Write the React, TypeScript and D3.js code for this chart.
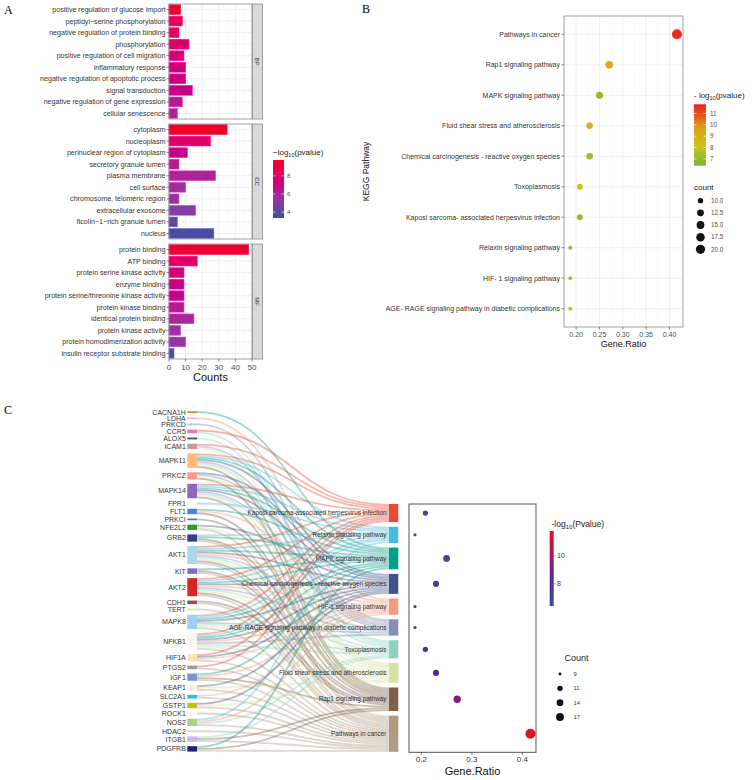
import React from "react";
import * as d3 from "d3";

const FONT = "'Liberation Sans', Arial, Helvetica, sans-serif";
const SERIF = "'Liberation Serif', 'Times New Roman', serif";

// ---------- Panel A: GO terms ----------
const bpTerms = [
  "positive regulation of glucose import",
  "peptidyl−serine phosphorylation",
  "negative regulation of protein binding",
  "phosphorylation",
  "positive regulation of cell migration",
  "inflammatory response",
  "negative regulation of apoptotic process",
  "signal transduction",
  "negative regulation of gene expression",
  "cellular senescence",
];
const bpCounts = [7, 8, 6, 12, 9, 10, 10, 14, 8, 5];
const bpLogP = [9.5, 8.3, 8.1, 7.9, 7.6, 7.4, 7.1, 6.8, 6.4, 6.1];

const ccTerms = [
  "cytoplasm",
  "nucleoplasm",
  "perinuclear region of cytoplasm",
  "secretory granule lumen",
  "plasma membrane",
  "cell surface",
  "chromosome, telomeric region",
  "extracellular exosome",
  "ficolin−1−rich granule lumen",
  "nucleus",
];
const ccCounts = [35, 25, 11, 6, 28, 10, 6, 16, 5, 27];
const ccLogP = [9.6, 7.9, 6.8, 6.4, 6.1, 5.8, 5.5, 5.0, 4.1, 3.7];

const mfTerms = [
  "protein binding",
  "ATP binding",
  "protein serine kinase activity",
  "enzyme binding",
  "protein serine/threonine kinase activity",
  "protein kinase binding",
  "identical protein binding",
  "protein kinase activity",
  "protein homodimerization activity",
  "insulin receptor substrate binding",
];
const mfCounts = [48, 17, 9, 9, 9, 9, 15, 7, 10, 3];
const mfLogP = [9.4, 8.0, 7.5, 7.1, 6.8, 6.4, 6.0, 5.7, 5.4, 3.8];

const goTicks = [0, 10, 20, 30, 40, 50];
const goLegendTicks = [4, 6, 8];

// ---------- Panel B: KEGG dot plot ----------
const keggKeys = ["cancer", "rap1", "mapk", "fluid", "chem", "toxo", "kaposi", "relaxin", "hif", "age"];
const keggLabelsB = [
  "Pathways in cancer",
  "Rap1 signaling pathway",
  "MAPK signaling pathway",
  "Fluid shear stress and atherosclerosis",
  "Chemical carcinogenesis -  reactive oxygen species",
  "Toxoplasmosis",
  "Kaposi sarcoma- associated herpesvirus infection",
  "Relaxin signaling pathway",
  "HIF- 1 signaling pathway",
  "AGE- RAGE signaling pathway in diabetic complications",
];
const keggLabelsC = [
  "Pathways in cancer",
  "Rap1 signaling pathway",
  "MAPK signaling pathway",
  "Fluid shear stress and atherosclerosis",
  "Chemical carcinogenesis - reactive oxygen species",
  "Toxoplasmosis",
  "Kaposi sarcoma-associated herpesvirus infection",
  "Relaxin signaling pathway",
  "HIF-1 signaling pathway",
  "AGE-RAGE signaling pathway in diabetic complications",
];
const keggRatio = [0.416, 0.271, 0.25, 0.229, 0.229, 0.208, 0.208, 0.1875, 0.1875, 0.1875];
const keggCount = [20, 13, 12, 11, 11, 10, 10, 9, 9, 9];
const keggLogP = [11.6, 9.4, 7.0, 8.8, 7.3, 8.2, 7.0, 7.0, 7.6, 7.8];
const keggTicksB = [0.2, 0.25, 0.3, 0.35, 0.4];
const keggLegendB = [7, 8, 9, 10, 11];
const countLegendB = [10, 12.5, 15, 17.5, 20];

// ---------- Panel C: gene–pathway sankey ----------
const sankeyOrder = ["kaposi", "relaxin", "mapk", "chem", "hif", "age", "toxo", "fluid", "rap1", "cancer"];
const pathwayColors = ["#E64B35", "#4DBBD5", "#00A087", "#3C5488", "#F39B7F", "#8491B4", "#91D1C2", "#D6E2A2", "#7E6148", "#B09C85"];

const geneNames = [
  "CACNA1H", "LDHA", "PRKCD", "CCR5", "ALOX5", "ICAM1", "MAPK11", "PRKCZ", "MAPK14", "FPR1",
  "FLT1", "PRKCI", "NFE2L2", "GRB2", "AKT1", "KIT", "AKT2", "CDH1", "TERT", "MAPK8",
  "NFKB1", "HIF1A", "PTGS2", "IGF1", "KEAP1", "SLC2A1", "GSTP1", "ROCK1", "NOS2", "HDAC2",
  "ITGB1", "PDGFRB",
];
const geneColors = [
  "#E8842A", "#F7B6D2", "#B8C6E6", "#E377C2", "#2F5A55", "#C49C94", "#FFBB78", "#FF9896", "#9467BD", "#F6F6F6",
  "#4A86D0", "#3F7FC9", "#2CA02C", "#393B8F", "#A9D9E8", "#7D6CBF", "#D62728", "#8C564B", "#E8E2A0", "#9FD0F0",
  "#FBF6EE", "#FFE0B2", "#9A9A9A", "#7B93D6", "#FDF1DC", "#2BBFD0", "#BDBD22", "#F8F8F8", "#A8D08C", "#DADADA",
  "#CDB8DE", "#20207A",
];
const genePathways = [
  ["mapk"],
  ["hif"],
  ["age"],
  ["kaposi", "toxo"],
  ["toxo"],
  ["kaposi", "age", "fluid"],
  ["kaposi", "relaxin", "mapk", "chem", "age", "toxo", "fluid", "rap1"],
  ["chem", "age", "fluid", "rap1"],
  ["kaposi", "relaxin", "mapk", "chem", "age", "toxo", "fluid", "rap1"],
  ["relaxin"],
  ["mapk", "hif", "rap1"],
  ["rap1"],
  ["chem", "fluid", "cancer"],
  ["relaxin", "mapk", "rap1", "cancer"],
  ["kaposi", "relaxin", "mapk", "chem", "hif", "age", "toxo", "fluid", "rap1", "cancer"],
  ["mapk", "rap1", "cancer"],
  ["kaposi", "relaxin", "mapk", "chem", "hif", "age", "toxo", "fluid", "rap1", "cancer"],
  ["rap1", "cancer"],
  ["cancer"],
  ["kaposi", "relaxin", "mapk", "chem", "age", "toxo", "fluid", "cancer"],
  ["kaposi", "relaxin", "mapk", "chem", "hif", "age", "toxo", "fluid", "cancer"],
  ["kaposi", "chem", "hif", "cancer"],
  ["kaposi", "cancer"],
  ["mapk", "hif", "rap1", "cancer"],
  ["chem", "fluid", "cancer"],
  ["hif", "cancer"],
  ["chem", "fluid", "cancer"],
  ["cancer"],
  ["relaxin", "hif", "toxo", "cancer"],
  ["cancer"],
  ["toxo", "rap1", "cancer"],
  ["mapk", "rap1", "cancer"],
];
const keggTicksC = [0.2, 0.3, 0.4];
const keggLegendC = [8, 10];
const countLegendC = [9, 11, 14, 17];

// ---------------------------------------------------------------

function PanelA() {
  const x = d3.scaleLinear().domain([0, 50]).range([169, 252]);
  const color = d3
    .scaleLinear<string>()
    .domain([3.35, 9.75])
    .range(["#3E4C9E", "#EE0B22"])
    .interpolate(d3.interpolateHcl);
  const facets = [
    { name: "BP", terms: bpTerms, counts: bpCounts, logp: bpLogP },
    { name: "CC", terms: ccTerms, counts: ccCounts, logp: ccLogP },
    { name: "MF", terms: mfTerms, counts: mfCounts, logp: mfLogP },
  ];
  const tops = [4, 124, 244];
  const h = 115;
  const minor = d3.range(5, 50, 10);
  const legendY = d3.scaleLinear().domain([3.35, 9.75]).range([218, 160]);
  const stops = d3.range(0, 1.001, 0.1);

  return (
    <g>
      <text x={4} y={14} fontFamily={SERIF} fontSize={12}>A</text>
      {facets.map((f, fi) => {
        const top = tops[fi];
        const y = d3.scaleBand().domain(f.terms).range([top, top + h]).paddingInner(0.16).paddingOuter(0.06);
        return (
          <g key={f.name}>
            <rect x={x(0)} y={top} width={x(50) - x(0)} height={h} fill="#fff" />
            {minor.map((t) => (
              <line key={"m" + t} x1={x(t)} x2={x(t)} y1={top} y2={top + h} stroke="#F4F4F4" strokeWidth={0.5} />
            ))}
            {goTicks.map((t) => (
              <line key={"g" + t} x1={x(t)} x2={x(t)} y1={top} y2={top + h} stroke="#EBEBEB" strokeWidth={0.8} />
            ))}
            {f.terms.map((t) => (
              <line key={"h" + t} x1={x(0)} x2={x(50)} y1={y(t)! + y.bandwidth() / 2} y2={y(t)! + y.bandwidth() / 2} stroke="#EBEBEB" strokeWidth={0.8} />
            ))}
            {f.terms.map((t, i) => (
              <rect
                key={"b" + t}
                x={x(0)}
                y={y(t)!}
                width={x(f.counts[i]) - x(0)}
                height={y.bandwidth()}
                fill={color(f.logp[i])}
                stroke={d3.color(color(f.logp[i]))!.brighter(0.8).formatHex()}
                strokeWidth={0.6}
              />
            ))}
            <rect x={x(0)} y={top} width={x(50) - x(0)} height={h} fill="none" stroke="#8C8C8C" strokeWidth={0.8} />
            <rect x={252.5} y={top} width={10} height={h} fill="#D9D9D9" stroke="#8C8C8C" strokeWidth={0.8} />
            <text
              transform={`translate(257.5,${top + h / 2}) rotate(90)`}
              textAnchor="middle"
              dy="0.35em"
              fontSize={6}
              fill="#333"
            >
              {f.name}
            </text>
            {f.terms.map((t) => (
              <g key={"l" + t} transform={`translate(0,${y(t)! + y.bandwidth() / 2})`}>
                <line x1={x(0) - 2.5} x2={x(0)} stroke="#333" strokeWidth={0.6} />
                <text x={x(0) - 3.5} dy="0.35em" textAnchor="end" fontSize={7.1} fill="#333">
                  {t}
                </text>
              </g>
            ))}
          </g>
        );
      })}
      {goTicks.map((t) => (
        <g key={t} transform={`translate(${x(t)},${tops[2] + h})`}>
          <line y2={2.5} stroke="#333" strokeWidth={0.6} />
          <text y={10.5} textAnchor="middle" fontSize={8} fill="#4D4D4D">{t}</text>
        </g>
      ))}
      <text x={(x(0) + x(50)) / 2} y={381} textAnchor="middle" fontSize={11} fill="#111">Counts</text>

      <defs>
        <linearGradient id="goGrad" x1="0" y1="1" x2="0" y2="0">
          {stops.map((s) => (
            <stop key={s} offset={s} stopColor={color(3.35 + s * 6.4)} />
          ))}
        </linearGradient>
      </defs>
      <text x={273} y={155} fontSize={8} fill="#222">
        −log<tspan fontSize={5.5} dy={2}>10</tspan>
        <tspan dy={-2}>(pvalue)</tspan>
      </text>
      <rect x={273} y={160} width={11} height={58} fill="url(#goGrad)" />
      {goLegendTicks.map((t) => (
        <g key={t} transform={`translate(0,${legendY(t)})`}>
          <line x1={273} x2={275.5} stroke="#fff" strokeWidth={0.6} />
          <line x1={281.5} x2={284} stroke="#fff" strokeWidth={0.6} />
          <text x={287} dy="0.35em" fontSize={6} fill="#4D4D4D">{t}</text>
        </g>
      ))}
    </g>
  );
}

function PanelB() {
  const x = d3.scaleLinear().domain([0.174, 0.429]).range([564, 683]);
  const y = d3.scalePoint<string>().domain(keggLabelsB).range([16, 327]).padding(0.6);
  const color = d3
    .scaleLinear<string>()
    .domain([6.4, 8.1, 9.6, 11.8])
    .range(["#74B72E", "#CBC51C", "#E0A11A", "#E8201E"]);
  const sizeT = d3.scaleLinear().domain([9, 20]).range([0, 1]);
  const r = (c: number) => 2 + Math.sqrt(sizeT(c)) * 3;
  const minor = [0.175, 0.225, 0.275, 0.325, 0.375, 0.425];
  const legendY = d3.scaleLinear().domain([6.4, 11.8]).range([165.7, 104.3]);
  const stops = d3.range(0, 1.001, 0.1);
  const countY = d3.scalePoint<number>().domain(countLegendB).range([200.7, 249.3]);

  return (
    <g>
      <text x={362} y={13} fontFamily={SERIF} fontSize={12}>B</text>
      <rect x={564} y={16} width={119} height={311} fill="#fff" />
      {minor.map((t) => (
        <line key={"m" + t} x1={x(t)} x2={x(t)} y1={16} y2={327} stroke="#F4F4F4" strokeWidth={0.5} />
      ))}
      {keggTicksB.map((t) => (
        <line key={"g" + t} x1={x(t)} x2={x(t)} y1={16} y2={327} stroke="#EBEBEB" strokeWidth={0.8} />
      ))}
      {keggLabelsB.map((l) => (
        <line key={"h" + l} x1={564} x2={683} y1={y(l)} y2={y(l)} stroke="#EBEBEB" strokeWidth={0.8} />
      ))}
      {keggLabelsB.map((l, i) => (
        <circle key={"c" + l} cx={x(keggRatio[i])} cy={y(l)} r={r(keggCount[i])} fill={color(keggLogP[i])} />
      ))}
      <rect x={564} y={16} width={119} height={311} fill="none" stroke="#8C8C8C" strokeWidth={0.8} />
      {keggLabelsB.map((l) => (
        <g key={"l" + l} transform={`translate(0,${y(l)})`}>
          <line x1={561.5} x2={564} stroke="#333" strokeWidth={0.6} />
          <text x={560} dy="0.35em" textAnchor="end" fontSize={7} fill="#333">{l}</text>
        </g>
      ))}
      {keggTicksB.map((t) => (
        <g key={t} transform={`translate(${x(t)},327)`}>
          <line y2={2.5} stroke="#333" strokeWidth={0.6} />
          <text y={9.5} textAnchor="middle" fontSize={7} fill="#4D4D4D">{d3.format(".2f")(t)}</text>
        </g>
      ))}
      <text x={623.5} y={347} textAnchor="middle" fontSize={9} fill="#111">Gene.Ratio</text>
      <text transform="translate(369,171.5) rotate(-90)" textAnchor="middle" fontSize={8.5} fill="#111">KEGG Pathway</text>

      <defs>
        <linearGradient id="keggGradB" x1="0" y1="1" x2="0" y2="0">
          {stops.map((s) => (
            <stop key={s} offset={s} stopColor={color(6.4 + s * 5.4)} />
          ))}
        </linearGradient>
      </defs>
      <text x={694} y={97.5} fontSize={8} fill="#222">
        - log<tspan fontSize={5.5} dy={2}>10</tspan>
        <tspan dy={-2}>(pvalue)</tspan>
      </text>
      <rect x={694} y={104.3} width={12} height={61.4} fill="url(#keggGradB)" />
      {keggLegendB.map((t) => (
        <g key={t} transform={`translate(0,${legendY(t)})`}>
          <line x1={694} x2={696.5} stroke="#fff" strokeWidth={0.6} />
          <line x1={703.5} x2={706} stroke="#fff" strokeWidth={0.6} />
          <text x={710} dy="0.35em" fontSize={6.3} fill="#4D4D4D">{t}</text>
        </g>
      ))}
      <text x={694} y={189.5} fontSize={8} fill="#222">count</text>
      {countLegendB.map((c) => (
        <g key={c} transform={`translate(0,${countY(c)})`}>
          <circle cx={700.5} r={r(c) * 0.92} fill="#111" />
          <text x={711} dy="0.35em" fontSize={6.3} fill="#4D4D4D">{d3.format(".1f")(c)}</text>
        </g>
      ))}
    </g>
  );
}

function PanelC() {
  const k = 1.81;
  const leftX0 = 187.3, leftX1 = 197;
  const rightX0 = 389, rightX1 = 398.3;
  const leftTop = 411.2, leftBottom = 751.6;
  const rightTop = 504, rightBottom = 751.8;

  const geneCounts = genePathways.map((p) => p.length);
  const pathCounts = sankeyOrder.map((key) => genePathways.filter((p) => p.includes(key)).length);
  const leftGap = (leftBottom - leftTop - k * d3.sum(geneCounts)) / (geneNames.length - 1);
  const rightGap = (rightBottom - rightTop - k * d3.sum(pathCounts)) / (sankeyOrder.length - 1);

  const cumGene = d3.cumsum(geneCounts);
  const geneNodes = geneNames.map((name, i) => {
    const y0 = leftTop + (cumGene[i] - geneCounts[i]) * k + i * leftGap;
    return { name, y0, y1: y0 + geneCounts[i] * k, color: geneColors[i] };
  });
  const cumPath = d3.cumsum(pathCounts);
  const pathNodes = sankeyOrder.map((key, j) => {
    const y0 = rightTop + (cumPath[j] - pathCounts[j]) * k + j * rightGap;
    const bi = keggKeys.indexOf(key);
    return {
      key,
      label: keggLabelsC[bi],
      ratio: keggRatio[bi],
      count: keggCount[bi],
      logp: keggLogP[bi],
      y0,
      y1: y0 + pathCounts[j] * k,
      color: pathwayColors[j],
    };
  });

  const inOffset = sankeyOrder.map(() => 0);
  const links: { d: string; color: string }[] = [];
  const linkGen = d3.linkHorizontal();
  genePathways.forEach((paths, i) => {
    let out = 0;
    sankeyOrder.forEach((key, j) => {
      if (!paths.includes(key)) return;
      const ys = geneNodes[i].y0 + (out + 0.5) * k;
      const yt = pathNodes[j].y0 + (inOffset[j] + 0.5) * k;
      out += 1;
      inOffset[j] += 1;
      links.push({ d: linkGen({ source: [leftX1, ys], target: [rightX0, yt] }) as string, color: pathwayColors[j] });
    });
  });

  // dot plot
  const x = d3.scaleLinear().domain([0.1756, 0.427]).range([409, 536]);
  const color = d3
    .scaleLinear<string>()
    .domain([6.4, 8.6, 10.2, 11.8])
    .range(["#3A4D9C", "#56288F", "#B0155F", "#E5141B"]);
  const sizeT = d3.scaleLinear().domain([9, 20]).range([0, 1]);
  const r = (c: number) => 1.6 + Math.sqrt(sizeT(c)) * 3.4;
  const legendY = d3.scaleLinear().domain([6.4, 11.8]).range([606, 531]);
  const stops = d3.range(0, 1.001, 0.1);
  const countY = d3.scalePoint<number>().domain(countLegendC).range([674, 717]);

  return (
    <g>
      <text x={4} y={414} fontFamily={SERIF} fontSize={12}>C</text>
      <g fill="none" strokeOpacity={0.4}>
        {links.map((l, i) => (
          <path key={i} d={l.d} stroke={l.color} strokeWidth={k} />
        ))}
      </g>
      {geneNodes.map((n) => (
        <rect key={n.name} x={leftX0} y={n.y0} width={leftX1 - leftX0} height={n.y1 - n.y0} fill={n.color} />
      ))}
      {pathNodes.map((n) => (
        <rect key={n.key} x={rightX0} y={n.y0} width={rightX1 - rightX0} height={n.y1 - n.y0} fill={n.color} />
      ))}
      {geneNodes.map((n) => (
        <text key={"t" + n.name} x={leftX0 - 1.5} y={(n.y0 + n.y1) / 2} dy="0.35em" textAnchor="end" fontSize={7} fill="#333">
          {n.name}
        </text>
      ))}
      {pathNodes.map((n) => (
        <text key={"t" + n.key} x={rightX0 - 2.5} y={(n.y0 + n.y1) / 2} dy="0.35em" textAnchor="end" fontSize={6.4} fill="#333">
          {n.label}
        </text>
      ))}

      <rect x={409} y={504} width={127} height={248.3} fill="#fff" stroke="#555" strokeWidth={1} />
      {pathNodes.map((n) => (
        <circle key={"d" + n.key} cx={x(n.ratio)} cy={(n.y0 + n.y1) / 2} r={r(n.count)} fill={color(n.logp)} />
      ))}
      {keggTicksC.map((t) => (
        <g key={t} transform={`translate(${x(t)},752.3)`}>
          <line y2={2.5} stroke="#333" strokeWidth={0.7} />
          <text y={9.3} textAnchor="middle" fontSize={8} fill="#333">{t}</text>
        </g>
      ))}
      <text x={472.5} y={775} textAnchor="middle" fontSize={11} fill="#111">Gene.Ratio</text>

      <defs>
        <linearGradient id="keggGradC" x1="0" y1="1" x2="0" y2="0">
          {stops.map((s) => (
            <stop key={s} offset={s} stopColor={color(6.4 + s * 5.4)} />
          ))}
        </linearGradient>
      </defs>
      <text x={551.5} y={527} fontSize={8.5} fill="#222">
        -log<tspan fontSize={6} dy={2}>10</tspan>
        <tspan dy={-2}>(Pvalue)</tspan>
      </text>
      <rect x={549.7} y={531} width={4} height={75} fill="url(#keggGradC)" />
      {keggLegendC.map((t) => (
        <g key={t} transform={`translate(0,${legendY(t)})`}>
          <line x1={553.7} x2={555.5} stroke="#444" strokeWidth={0.5} />
          <text x={557} dy="0.35em" fontSize={7} fill="#333">{t}</text>
        </g>
      ))}
      <text x={564.5} y={661} fontSize={9} fill="#222">Count</text>
      {countLegendC.map((c) => (
        <g key={c} transform={`translate(0,${countY(c)})`}>
          <circle cx={560} r={r(c) * 0.88} fill="#111" />
          <text x={573.5} dy="0.35em" fontSize={5.8} fill="#333">{c}</text>
        </g>
      ))}
    </g>
  );
}

export default function App() {
  return (
    <svg
      width={754}
      height={780}
      style={{ position: "absolute", left: 0, top: 0 }}
      fontFamily={FONT}
    >
      <rect width={754} height={780} fill="#fff" />
      <PanelA />
      <PanelB />
      <PanelC />
    </svg>
  );
}
